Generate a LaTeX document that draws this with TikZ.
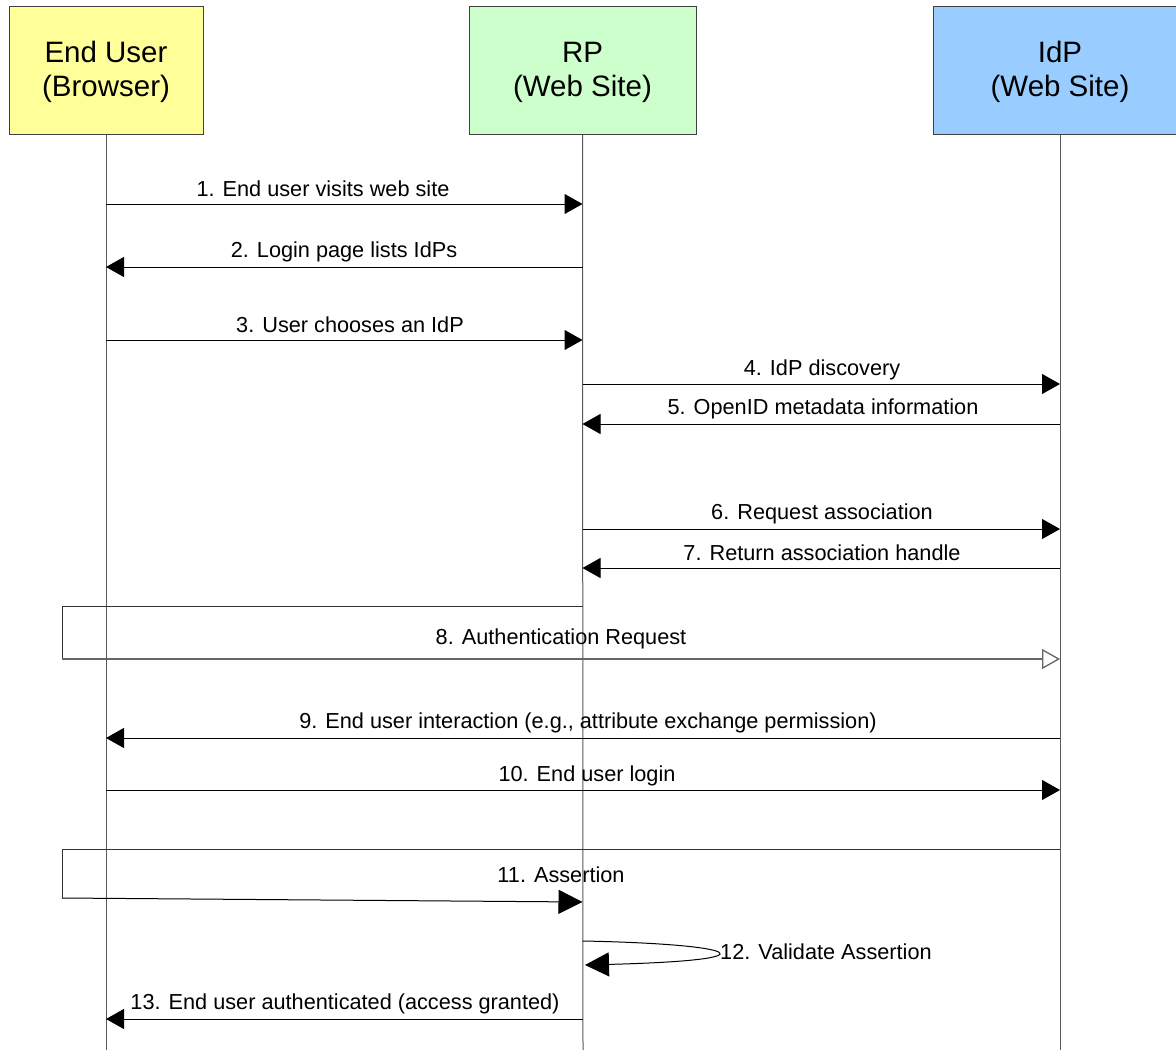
\documentclass[tikz,border=0pt]{standalone}
\usepackage{fontspec}
\setmainfont{Liberation Sans}
\usetikzlibrary{arrows.meta}
\definecolor{euyellow}{HTML}{FFFF99}
\definecolor{rpgreen}{HTML}{CCFFCC}
\definecolor{idpblue}{HTML}{99CCFF}
\begin{document}
\begin{tikzpicture}[x=1pt,y=-1pt,
  actor/.style={draw=black!75,line width=1pt,minimum height=128pt,inner sep=0pt,
    align=center,font=\fontsize{29.5}{34}\selectfont},
  lifeline/.style={draw=black!65,line width=1pt},
  msg/.style={draw=black,line width=1pt,-{Triangle[length=18pt,width=20pt]}},
  bigmsg/.style={draw=black,line width=1pt,-{Triangle[length=24pt,width=24pt]}},
  msgopen/.style={draw=black!60,line width=1.3pt,-{Triangle[open,length=18pt,width=20pt,fill=white]}},
  lbl/.style={font=\fontsize{21.7}{24}\selectfont,inner sep=0pt}]
\useasboundingbox (0,0) rectangle (1176,1050);
\clip (0,0) rectangle (1176,1050);
% participants
\node[actor,fill=euyellow,minimum width=194pt] (eu) at (106,70) {\raisebox{-2pt}[\height][\depth]{\parbox{180pt}{\centering End User\\(Browser)}}};
\node[actor,fill=rpgreen,minimum width=227pt] (rp) at (582.5,70) {\raisebox{-2pt}[\height][\depth]{\parbox{200pt}{\centering RP\\(Web Site)}}};
\node[actor,fill=idpblue,minimum width=254pt] (idp) at (1060,70) {\raisebox{-2pt}[\height][\depth]{\parbox{200pt}{\centering IdP\\(Web Site)}}};
% lifeline ends
\coordinate (euend) at (106,1052);
\coordinate (rpend) at (583,1052);
\coordinate (idpend) at (1060,1052);
\draw[lifeline] (eu.south) -- (euend);
\draw[lifeline] (rp.south) -- (rpend);
\draw[lifeline] (idp.south) -- (idpend);
% 1
\draw[msg] (eu.south |- 0,204) -- (rp.south |- 0,204);
\node[lbl] (l1) at (323,188.5) {1. End user visits web site};
% 2
\draw[msg] (rp.south |- 0,267) -- (eu.south |- 0,267);
\node[lbl] (l2) at (344,251.5) {2. Login page lists IdPs};
% 3
\draw[msg] (eu.south |- 0,340) -- (rp.south |- 0,340);
\node[lbl] (l3) at (350,324.5) {3. User chooses an IdP};
% 4
\draw[msg] (rp.south |- 0,384) -- (idp.south |- 0,384);
\node[lbl] (l4) at (822,369.5) {4. IdP discovery};
% 5
\draw[msg] (idp.south |- 0,424) -- (rp.south |- 0,424);
\node[lbl] (l5) at (823,408.5) {5. OpenID metadata information};
% 6
\draw[msg] (rp.south |- 0,529) -- (idp.south |- 0,529);
\node[lbl] (l6) at (822,513.5) {6. Request association};
% 7
\draw[msg] (idp.south |- 0,568) -- (rp.south |- 0,568);
\node[lbl] (l7) at (822,552.5) {7. Return association handle};
% 8
\coordinate (c8a) at (62,606);
\coordinate (c8b) at (62,659);
\draw[black!80,line width=1pt] (rp.south |- 0,606) -- (c8a) -- (c8b);
\draw[msgopen] (c8b) -- (idp.south |- 0,659);
\node[lbl] (l8) at (561,638.5) {8. Authentication Request};
% 9
\draw[msg] (idp.south |- 0,738) -- (eu.south |- 0,738);
\node[lbl] (l9) at (588,722.5) {9. End user interaction (e.g., attribute exchange permission)};
% 10
\draw[msg] (eu.south |- 0,790) -- (idp.south |- 0,790);
\node[lbl] (l10) at (587,775.5) {10. End user login};
% 11
\coordinate (c11a) at (62,849);
\coordinate (c11b) at (62,898);
\draw[black!80,line width=1pt] (idp.south |- 0,849) -- (c11a) -- (c11b);
\draw[bigmsg] (c11b) -- (rp.south |- 0,902);
\node[lbl] (l11) at (561,874.5) {11. Assertion};
% 12
\draw[bigmsg] (rp.south |- 0,941) .. controls (740,944) and (780,960) .. (585,965);
\node[lbl,anchor=west] (l12) at (720,951.5) {12. Validate Assertion};
% 13
\draw[msg] (rp.south |- 0,1019) -- (eu.south |- 0,1019);
\node[lbl] (l13) at (345,1003.5) {13. End user authenticated (access granted)};
\end{tikzpicture}
\end{document}
